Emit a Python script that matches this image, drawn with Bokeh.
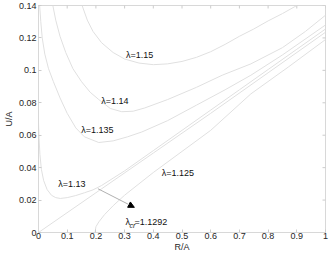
import math
from bokeh.plotting import figure
from bokeh.models import (Range1d, NumeralTickFormatter, FixedTicker,
                          Arrow, NormalHead, ColumnDataSource)
from bokeh.core.properties import value
from bokeh.embed import file_html
from bokeh.resources import INLINE

# ---- data ----
r_115 = [0.152, 0.17, 0.19, 0.22, 0.26, 0.30, 0.35, 0.40, 0.45, 0.50, 0.55, 0.60, 0.65, 0.70, 0.75, 0.80, 0.85, 0.90]
u_115 = [0.140, 0.131, 0.124, 0.117, 0.111, 0.107, 0.1045, 0.1035, 0.104, 0.1055, 0.108, 0.1115, 0.116, 0.121, 0.1255, 0.1305, 0.135, 0.140]

r_114 = [0.05, 0.06, 0.075, 0.095, 0.12, 0.15, 0.18, 0.21, 0.25, 0.29, 0.33, 0.37, 0.45, 0.55, 0.64, 0.74, 0.85, 0.93, 1.0]
u_114 = [0.140, 0.131, 0.121, 0.111, 0.101, 0.093, 0.0865, 0.082, 0.0765, 0.0745, 0.0748, 0.0768, 0.082, 0.0895, 0.097, 0.104, 0.114, 0.124, 0.134]

r_1135 = [0.004, 0.008, 0.013, 0.022, 0.035, 0.052, 0.075, 0.10, 0.13, 0.16, 0.21, 0.26, 0.31, 0.36, 0.45, 0.55, 0.65, 0.74, 0.85, 1.0]
u_1135 = [0.140, 0.130, 0.120, 0.110, 0.101, 0.093, 0.083, 0.0735, 0.0645, 0.059, 0.0555, 0.0565, 0.059, 0.062, 0.069, 0.0785, 0.088, 0.097, 0.1095, 0.128]

r_113 = [0.0, 0.002, 0.005, 0.01, 0.018, 0.03, 0.045, 0.06, 0.076, 0.10, 0.13, 0.16, 0.19, 0.22, 0.26, 0.30, 0.40, 0.50, 0.60, 0.70, 0.80, 0.90, 1.0]
u_113 = [0.068, 0.058, 0.048, 0.039, 0.032, 0.0265, 0.023, 0.0215, 0.021, 0.0215, 0.0228, 0.0245, 0.0263, 0.029, 0.0335, 0.038, 0.0505, 0.063, 0.0755, 0.088, 0.1005, 0.113, 0.1255]

r_cr = [0.0, 0.2, 0.4, 0.6, 0.8, 1.0]
u_cr = [0.0, 0.0245, 0.049, 0.0735, 0.0985, 0.1235]

r_1125 = [0.197, 0.20, 0.21, 0.23, 0.26, 0.30, 0.35, 0.40, 0.50, 0.60, 0.74, 0.87, 1.0]
u_1125 = [0.0, 0.0035, 0.0065, 0.011, 0.0165, 0.023, 0.030, 0.037, 0.050, 0.063, 0.0855, 0.102, 0.119]

label_text = ["λ=1.15", "λ=1.14", "λ=1.135", "λ=1.13", "λ=1.125"]
label_r = [0.352, 0.266, 0.205, 0.116, 0.486]
label_u = [0.1097, 0.0813, 0.063, 0.030, 0.0365]

cr_r = 0.303
cr_u = 0.0062
cr_sym = "λ"
cr_sub = "cr"
cr_val = "=1.1292"

arrow_start = (0.207, 0.027)
arrow_end = (0.334, 0.0155)

x_ticks = [0, 0.1, 0.2, 0.3, 0.4, 0.5, 0.6, 0.7, 0.8, 0.9, 1.0]
y_ticks = [0, 0.02, 0.04, 0.06, 0.08, 0.10, 0.12, 0.14]

# ---- styling ----
FONT = "Liberation Sans"
CURVE = "#e0e0e0"
FRAME = "#d8d8d8"
TICK = "#cccccc"

p = figure(width=330, height=254, output_backend="svg", toolbar_location=None,
           x_range=Range1d(0, 1), y_range=Range1d(0, 0.14),
           min_border_left=35, min_border_right=5, min_border_top=5, min_border_bottom=20)
p.background_fill_color = "white"
p.border_fill_color = "white"
p.outline_line_color = FRAME
p.xgrid.visible = False
p.ygrid.visible = False

for ax, ticks in ((p.xaxis[0], x_ticks), (p.yaxis[0], y_ticks)):
    ax.ticker = FixedTicker(ticks=ticks)
    ax.formatter = NumeralTickFormatter(format="0.[00]")
    ax.axis_line_color = FRAME
    ax.major_tick_line_color = TICK
    ax.major_tick_in = 3
    ax.major_tick_out = 0
    ax.minor_tick_line_color = None
    ax.major_label_text_font = FONT
    ax.major_label_text_font_size = "9px"
    ax.major_label_text_color = "#262626"
    ax.major_label_standoff = 2
    ax.axis_label_text_font = FONT
    ax.axis_label_text_font_size = "9px"
    ax.axis_label_text_font_style = "normal"
    ax.axis_label_text_color = "#262626"
    ax.axis_label_standoff = 0
p.xaxis[0].axis_label = "R/A"
p.xaxis[0].major_label_standoff = 0
p.yaxis[0].axis_label = "U/A"
p.yaxis[0].axis_label_standoff = 2

# inward ticks on the top and right edges of the box (half clipped by the frame)
p.scatter(x=x_ticks, y=[y_ticks[-1]] * len(x_ticks), marker="dash", size=6,
          angle=math.pi / 2, line_color=TICK, line_width=1)
p.scatter(x=[x_ticks[-1]] * len(y_ticks), y=y_ticks, marker="dash", size=6,
          line_color=TICK, line_width=1)

for rr, uu in [(r_115, u_115), (r_114, u_114), (r_1135, u_1135),
               (r_113, u_113), (r_cr, u_cr), (r_1125, u_1125)]:
    p.line(rr, uu, line_color=CURVE, line_width=1)

src = ColumnDataSource(dict(x=label_r, y=label_u, t=label_text))
p.text(x="x", y="y", text="t", source=src, text_font=value(FONT),
       text_font_size="9px", text_color="#111111",
       text_align="center", text_baseline="middle")

p.text(x=[cr_r], y=[cr_u], text=[cr_sym], text_font=value(FONT), text_font_size="9px",
       text_color="#111111", text_align="left", text_baseline="middle")
p.text(x=[cr_r], y=[cr_u], text=[cr_sub], text_font=value(FONT), text_font_size="7px",
       text_font_style="italic", text_color="#111111", text_align="left",
       text_baseline="middle", x_offset=4, y_offset=3.5)
p.text(x=[cr_r], y=[cr_u], text=[cr_val], text_font=value(FONT), text_font_size="9px",
       text_color="#111111", text_align="left", text_baseline="middle", x_offset=9)

p.add_layout(Arrow(end=NormalHead(size=6, fill_color="black", line_color="black"),
                   x_start=arrow_start[0], y_start=arrow_start[1],
                   x_end=arrow_end[0], y_end=arrow_end[1],
                   line_color="#b0b0b0", line_width=1))

open("out.html", "w").write(file_html(p, INLINE))
